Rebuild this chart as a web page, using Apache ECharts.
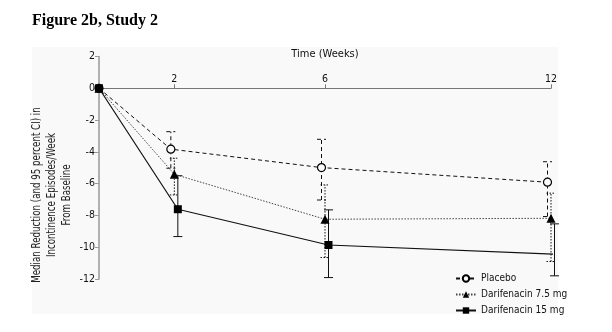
<!DOCTYPE html>
<html>
<head>
<meta charset="utf-8">
<script src="https://cdn.jsdelivr.net/npm/echarts@6/dist/echarts.min.js"></script>
<style>
html,body{margin:0;padding:0;background:#fff;}
#chart{width:612px;height:332px;}
</style>
</head>
<body>
<div id="chart"></div>
<script>
// ---- data ----
var weeks = [0, 2, 6, 12];
var xTickLabels = [2, 6, 12];
var yTicks = [2, 0, -2, -4, -6, -8, -10, -12];
var seriesNames = ['Placebo', 'Darifenacin 7.5 mg', 'Darifenacin 15 mg'];
var placebo   = [0, -3.83, -4.99, -5.91];
var placeboLo = [null, -5.03, -7.03, -8.07];
var placeboHi = [null, -2.73, -3.21, -4.62];
var dari75    = [0, -5.41, -8.24, -8.18];
var dari75Lo  = [null, -6.71, -10.65, -10.9];
var dari75Hi  = [null, -4.4, -6.08, -6.6];
var dari15    = [0, -7.61, -9.86, -10.44];
var dari15Lo  = [null, -9.33, -11.91, -11.8];
var dari15Hi  = [null, -5.5, -7.65, -8.53];

var FONT = '"DejaVu Sans Condensed","Liberation Sans",sans-serif';
var dodgePx = [-3.5, 0, 3.5];
var dashes = [[4, 3], [1.5, 1.5], null];
var lineTypes = [[4, 3], [1.5, 1.5], 'solid'];
var symbols = ['circle', 'triangle', 'rect'];
var vals = [placebo, dari75, dari15];
var los = [placeboLo, dari75Lo, dari15Lo];
var his = [placeboHi, dari75Hi, dari15Hi];

var chart = echarts.init(document.getElementById('chart'), null, {renderer: 'canvas'});

var series = [];
// error bars
vals.forEach(function (v, s) {
  var d = [];
  weeks.forEach(function (w, i) {
    if (los[s][i] != null) d.push([w, los[s][i], his[s][i]]);
  });
  series.push({
    type: 'custom',
    name: seriesNames[s] + ' CI',
    silent: true,
    z: 2,
    data: d,
    encode: {x: 0, y: [1, 2]},
    renderItem: function (params, api) {
      var lo = api.coord([api.value(0), api.value(1)]);
      var hi = api.coord([api.value(0), api.value(2)]);
      var x = lo[0] + dodgePx[s];
      var cw = 4.5;
      var st = {stroke: '#111', lineWidth: 1, lineDash: dashes[s]};
      return {
        type: 'group',
        children: [
          {type: 'line', shape: {x1: x, y1: lo[1], x2: x, y2: hi[1]}, style: st},
          {type: 'line', shape: {x1: x - cw, y1: lo[1], x2: x + cw, y2: lo[1]}, style: st},
          {type: 'line', shape: {x1: x - cw, y1: hi[1], x2: x + cw, y2: hi[1]}, style: st}
        ]
      };
    }
  });
});
// lines with markers (dodge converted from px to weeks: 12 weeks over ~452 px)
var pxPerWeek = 452 / 12;
vals.forEach(function (v, s) {
  series.push({
    type: 'line',
    name: seriesNames[s],
    z: 5,
    symbol: symbols[s],
    symbolSize: s === 0 ? 8 : (s === 1 ? 9 : 8),
    showAllSymbol: true,
    data: weeks.map(function (w, i) {
      return [w === 0 ? 0 : w + dodgePx[s] / pxPerWeek, v[i]];
    }),
    lineStyle: {color: s === 1 ? '#444' : '#111', width: s === 2 ? 1.2 : 1, type: lineTypes[s]},
    itemStyle: {color: s === 0 ? '#fafafa' : '#000', borderColor: '#000', borderWidth: s === 0 ? 1.2 : 0},
    emphasis: {disabled: true}
  });
});

var option = {
  animation: false,
  backgroundColor: '#fff',
  title: {
    text: 'Figure 2b, Study 2',
    left: 27, top: 8,
    textStyle: {fontFamily: '"Liberation Serif","Times New Roman",serif', fontWeight: 'bold', fontSize: 16, color: '#000'}
  },
  graphic: [
    {type: 'rect', z: -10, silent: true, shape: {x: 32, y: 47, width: 526, height: 267}, style: {fill: '#f9f9f9'}},
    {type: 'text', silent: true, x: 52, y: 195, rotation: Math.PI / 2, scaleX: 0.84,
     style: {text: 'Median Reduction (and 95 percent CI) in\nIncontinence Episodes/Week\nFrom Baseline',
             font: '11.5px ' + FONT, fill: '#222', align: 'center', verticalAlign: 'middle', lineHeight: 15}}
  ],
  legend: {
    orient: 'vertical',
    left: 450, top: 267,
    itemWidth: 20, itemHeight: 8, itemGap: 3,
    data: seriesNames,
    textStyle: {fontFamily: FONT, fontSize: 10, color: '#111', lineHeight: 13},
    selectedMode: false
  },
  grid: {left: 99, right: 61, top: 56.5, bottom: 53, containLabel: false},
  xAxis: {
    type: 'value', min: 0, max: 12, position: 'top', offset: -31.8,
    name: 'Time (Weeks)', nameLocation: 'middle', nameGap: 29,
    nameTextStyle: {fontFamily: FONT, fontSize: 11, color: '#111'},
    axisLine: {onZero: false, lineStyle: {color: '#777', width: 1}},
    axisTick: {show: true, length: 4, customValues: xTickLabels, lineStyle: {color: '#777'}},
    axisLabel: {customValues: xTickLabels, fontFamily: FONT, fontSize: 10.5, color: '#111', margin: 4},
    splitLine: {show: false}
  },
  yAxis: {
    type: 'value', min: -12, max: 2, interval: 2,
    axisLine: {show: true, onZero: false, lineStyle: {color: '#999', width: 1.5}},
    axisTick: {show: true, length: 4, lineStyle: {color: '#999'}},
    axisLabel: {fontFamily: FONT, fontSize: 10.5, color: '#111', margin: 4},
    splitLine: {show: false}
  },
  series: series
};
chart.setOption(option);
</script>
</body>
</html>
